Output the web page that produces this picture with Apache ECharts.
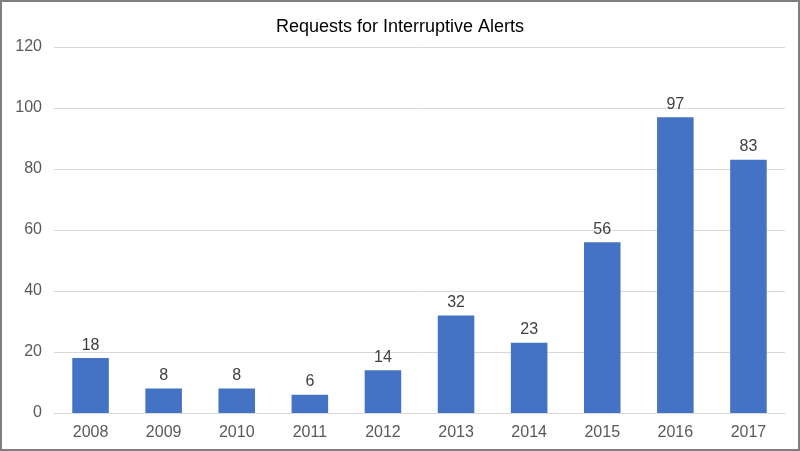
<!DOCTYPE html>
<html>
<head>
<meta charset="utf-8">
<script src="https://cdn.jsdelivr.net/npm/echarts@6/dist/echarts.min.js"></script>
<style>
  html, body { margin: 0; padding: 0; background: #fff; }
  #main { width: 796px; height: 447px; border: 2px solid #7f7f7f; }
</style>
</head>
<body>
<div id="main"></div>
<script>
// chart data
const years = ["2008", "2009", "2010", "2011", "2012", "2013", "2014", "2015", "2016", "2017"];
const requests = [18, 8, 8, 6, 14, 32, 23, 56, 97, 83];

const chart = echarts.init(document.getElementById("main"), null, { renderer: "canvas" });
chart.setOption({
  animation: false,
  title: {
    text: "Requests for Interruptive Alerts",
    left: "center",
    top: 11,
    textStyle: { fontFamily: "Arial, Liberation Sans", fontSize: 18, fontWeight: "normal", color: "#000" },
  },
  grid: { left: 52, right: 13, top: 45, bottom: 36 },
  xAxis: {
    type: "category",
    data: years,
    axisLine: { lineStyle: { color: "#d9d9d9" } },
    axisTick: { show: false },
    axisLabel: { color: "#595959", fontSize: 16, fontFamily: "Arial, Liberation Sans", margin: 12 },
  },
  yAxis: {
    type: "value",
    min: 0,
    max: 120,
    interval: 20,
    axisLine: { show: false },
    axisTick: { show: false },
    splitLine: { lineStyle: { color: "#d9d9d9" } },
    axisLabel: { color: "#595959", fontSize: 16, fontFamily: "Arial, Liberation Sans", margin: 12 },
  },
  series: [
    {
      type: "bar",
      data: requests,
      barWidth: "50%",
      itemStyle: { color: "#4472c4" },
      label: {
        show: true,
        position: "top",
        distance: 5,
        color: "#404040",
        fontSize: 16,
        fontFamily: "Arial, Liberation Sans",
      },
    },
  ],
});
</script>
</body>
</html>
